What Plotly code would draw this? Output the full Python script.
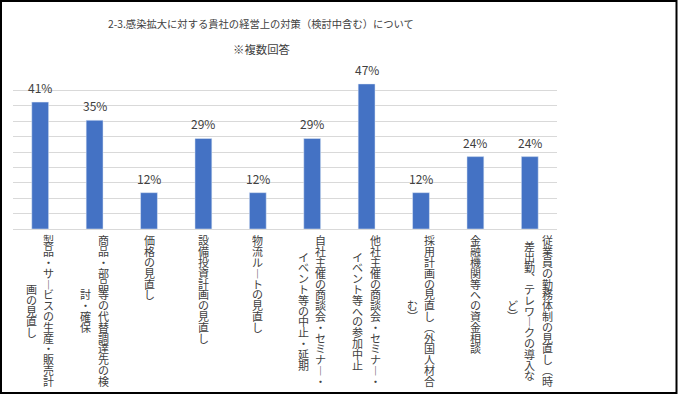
import plotly.graph_objects as go

# ---- data ----
categories = [
    "製品・サービスの生産・販売計\n画の見直し",
    "商品・部品等の代替調達先の検\n討・確保",
    "価格の見直し",
    "設備投資計画の見直し",
    "物流ルートの見直し",
    "自社主催の商談会・セミナー・\nイベント等の中止・延期",
    "他社主催の商談会・セミナー・\nイベント等への参加中止",
    "採用計画の見直し（外国人材合\nむ）",
    "金融機関等への資金相談",
    "従業員の勤務体制の見直し（時\n差出勤、テレワークの導入な\nど）",
]
values = [41.2, 35.3, 11.8, 29.4, 11.8, 29.4, 47.1, 11.8, 23.5, 23.5]
value_labels = ["41%", "35%", "12%", "29%", "12%", "29%", "47%", "12%", "24%", "24%"]
title_text = "2-3.感染拡大に対する貴社の経営上の対策（検討中含む）について"
subtitle_text = "※複数回答"

# ---- layout constants ----
W, H = 678, 395
ML, MR, MT, MB = 13, 121, 75, 166
PW, PH = W - ML - MR, H - MT - MB
BASE = H - MB  # pixel y of baseline
FONT = "Noto Sans CJK JP"
TXT = "#404040"

vertical_map = {"ー": "︱", "（": "︵", "）": "︶", "、": "︑", "－": "︱"}

keys = [c.replace("\n", "") for c in categories]

fig = go.Figure(go.Bar(
    x=keys, y=values, marker_color="#4472C4", hoverinfo="skip",
))

ann = []
# data labels
for k, v, t in zip(keys, values, value_labels):
    ann.append(dict(x=k, y=v, xref="x", yref="y", text=t, showarrow=False,
                    yanchor="bottom", yshift=4,
                    font=dict(family=FONT, size=12, color=TXT)))

# vertical category labels (one character per annotation, columns right-to-left)
pitch = 10.8
col_gap = 17.5
top_px = 235
for k, cat in zip(keys, categories):
    cols = cat.split("\n")
    n = max(len(c) for c in cols)
    center = top_px + n * pitch / 2
    ncol = len(cols)
    for j, col in enumerate(cols):
        xoff = ((ncol - 1) / 2 - j) * col_gap
        start = center - len(col) * pitch / 2
        for i, ch in enumerate(col):
            py = start + (i + 0.5) * pitch
            ann.append(dict(x=k, xref="x", y=0, yref="paper",
                            text=vertical_map.get(ch, ch), showarrow=False,
                            xanchor="center", yanchor="middle",
                            xshift=xoff, yshift=-(py - BASE),
                            font=dict(family=FONT, size=11, color=TXT)))

# title and subtitle
def px_to_paper_x(px):
    return (px - ML) / PW

def px_to_paper_y(py):
    return (BASE - py) / PH

ann.append(dict(x=px_to_paper_x(261), y=px_to_paper_y(23), xref="paper", yref="paper",
                text=title_text, showarrow=False, xanchor="center", yanchor="middle",
                font=dict(family=FONT, size=10.3, color=TXT)))
ann.append(dict(x=px_to_paper_x(262), y=px_to_paper_y(49), xref="paper", yref="paper",
                text=subtitle_text, showarrow=False, xanchor="center", yanchor="middle",
                font=dict(family=FONT, size=11.4, color=TXT)))

fig.update_layout(
    width=W, height=H,
    margin=dict(l=ML, r=MR, t=MT, b=MB, pad=0),
    paper_bgcolor="white", plot_bgcolor="white",
    bargap=0.69,
    showlegend=False,
    annotations=ann,
    shapes=[dict(type="rect", xref="paper", yref="paper",
                 x0=px_to_paper_x(1), x1=px_to_paper_x(676.5),
                 y0=px_to_paper_y(393), y1=px_to_paper_y(1),
                 line=dict(color="black", width=2), fillcolor="rgba(0,0,0,0)",
                 layer="above")],
    xaxis=dict(showticklabels=False, ticks="", showgrid=False, zeroline=False,
               showline=True, linecolor="#d9d9d9", linewidth=1),
    yaxis=dict(range=[0, 50], dtick=5, showticklabels=False, ticks="",
               showgrid=True, gridcolor="#d9d9d9", gridwidth=1,
               zeroline=False, showline=False),
)

fig.write_html("out.html", config={"displayModeBar": False},
               post_script="document.body.style.margin='0';document.body.style.padding='0';")
